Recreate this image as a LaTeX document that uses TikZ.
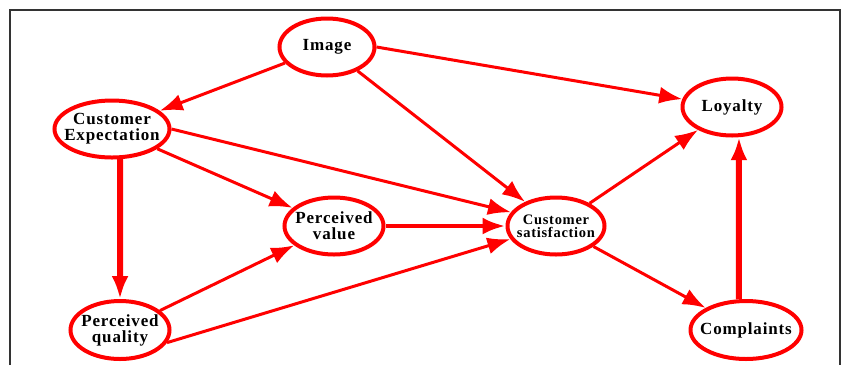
\documentclass[tikz,border=0pt]{standalone}
\usepackage{fontspec}
\setmainfont{Liberation Serif}
\newfontfamily\tagfont[LetterSpace=5]{Liberation Serif}
\usetikzlibrary{arrows.meta,shapes.geometric}
\tikzset{
    concept/.style={ellipse,draw=red,line width=4pt,inner xsep=-15pt,inner ysep=-3pt,align=center,
        font=\tagfont\bfseries\fontsize{17}{16}\selectfont},
    small/.style={font=\tagfont\bfseries\fontsize{14.5}{13}\selectfont},
    link/.style={-{Latex[length=23pt,width=17pt]},draw=red,line width=3pt},
    midlink/.style={link,line width=4.5pt},
    strong/.style={link,line width=6pt},
    frame/.style={draw=black!80,line width=1.2pt},
}

\begin{document}
\begin{tikzpicture}[x=1pt,y=-1pt]
    \useasboundingbox (0,0) rectangle (842,365);
    \draw[frame] (10,365) -- (10,10) -- (840,10) -- (840,365);

    \node[concept,minimum width=95pt,minimum height=57pt] (img) at (327,47) {Image};
    \node[concept,minimum width=115pt,minimum height=57pt] (ce) at (112,129) {Customer\\Expectation};
    \node[concept,minimum width=99pt,minimum height=57pt] (loy) at (732,107) {Loyalty};
    \node[concept,minimum width=99pt,minimum height=57pt] (pv) at (334,226) {Perceived\\value};
    \node[concept,minimum width=99pt,minimum height=58pt] (pq) at (120,330) {Perceived\\quality};
    \node[concept,small,minimum width=97pt,minimum height=57pt] (cs) at (556,226) {Customer\\satisfaction};
    \node[concept,minimum width=111pt,minimum height=58pt] (comp) at (746,330) {Complaints};

    \draw[link] (img) -- (ce);
    \draw[link] (img.east) -- (loy.171);
    \draw[link] (img) -- (cs);
    \draw[link] (ce) -- (pv);
    \draw[link] (ce.east) -- (cs.163);
    \draw[strong] (ce.-75) -- (pq.north);
    \draw[link] (pq) -- (pv);
    \draw[link] (pq.-15) -- (cs.196);
    \draw[midlink] (pv) -- (cs);
    \draw[link] (cs) -- (loy);
    \draw[link] (cs) -- (comp);
    \draw[strong] (comp.103) -- (loy.-77);
\end{tikzpicture}
\end{document}
